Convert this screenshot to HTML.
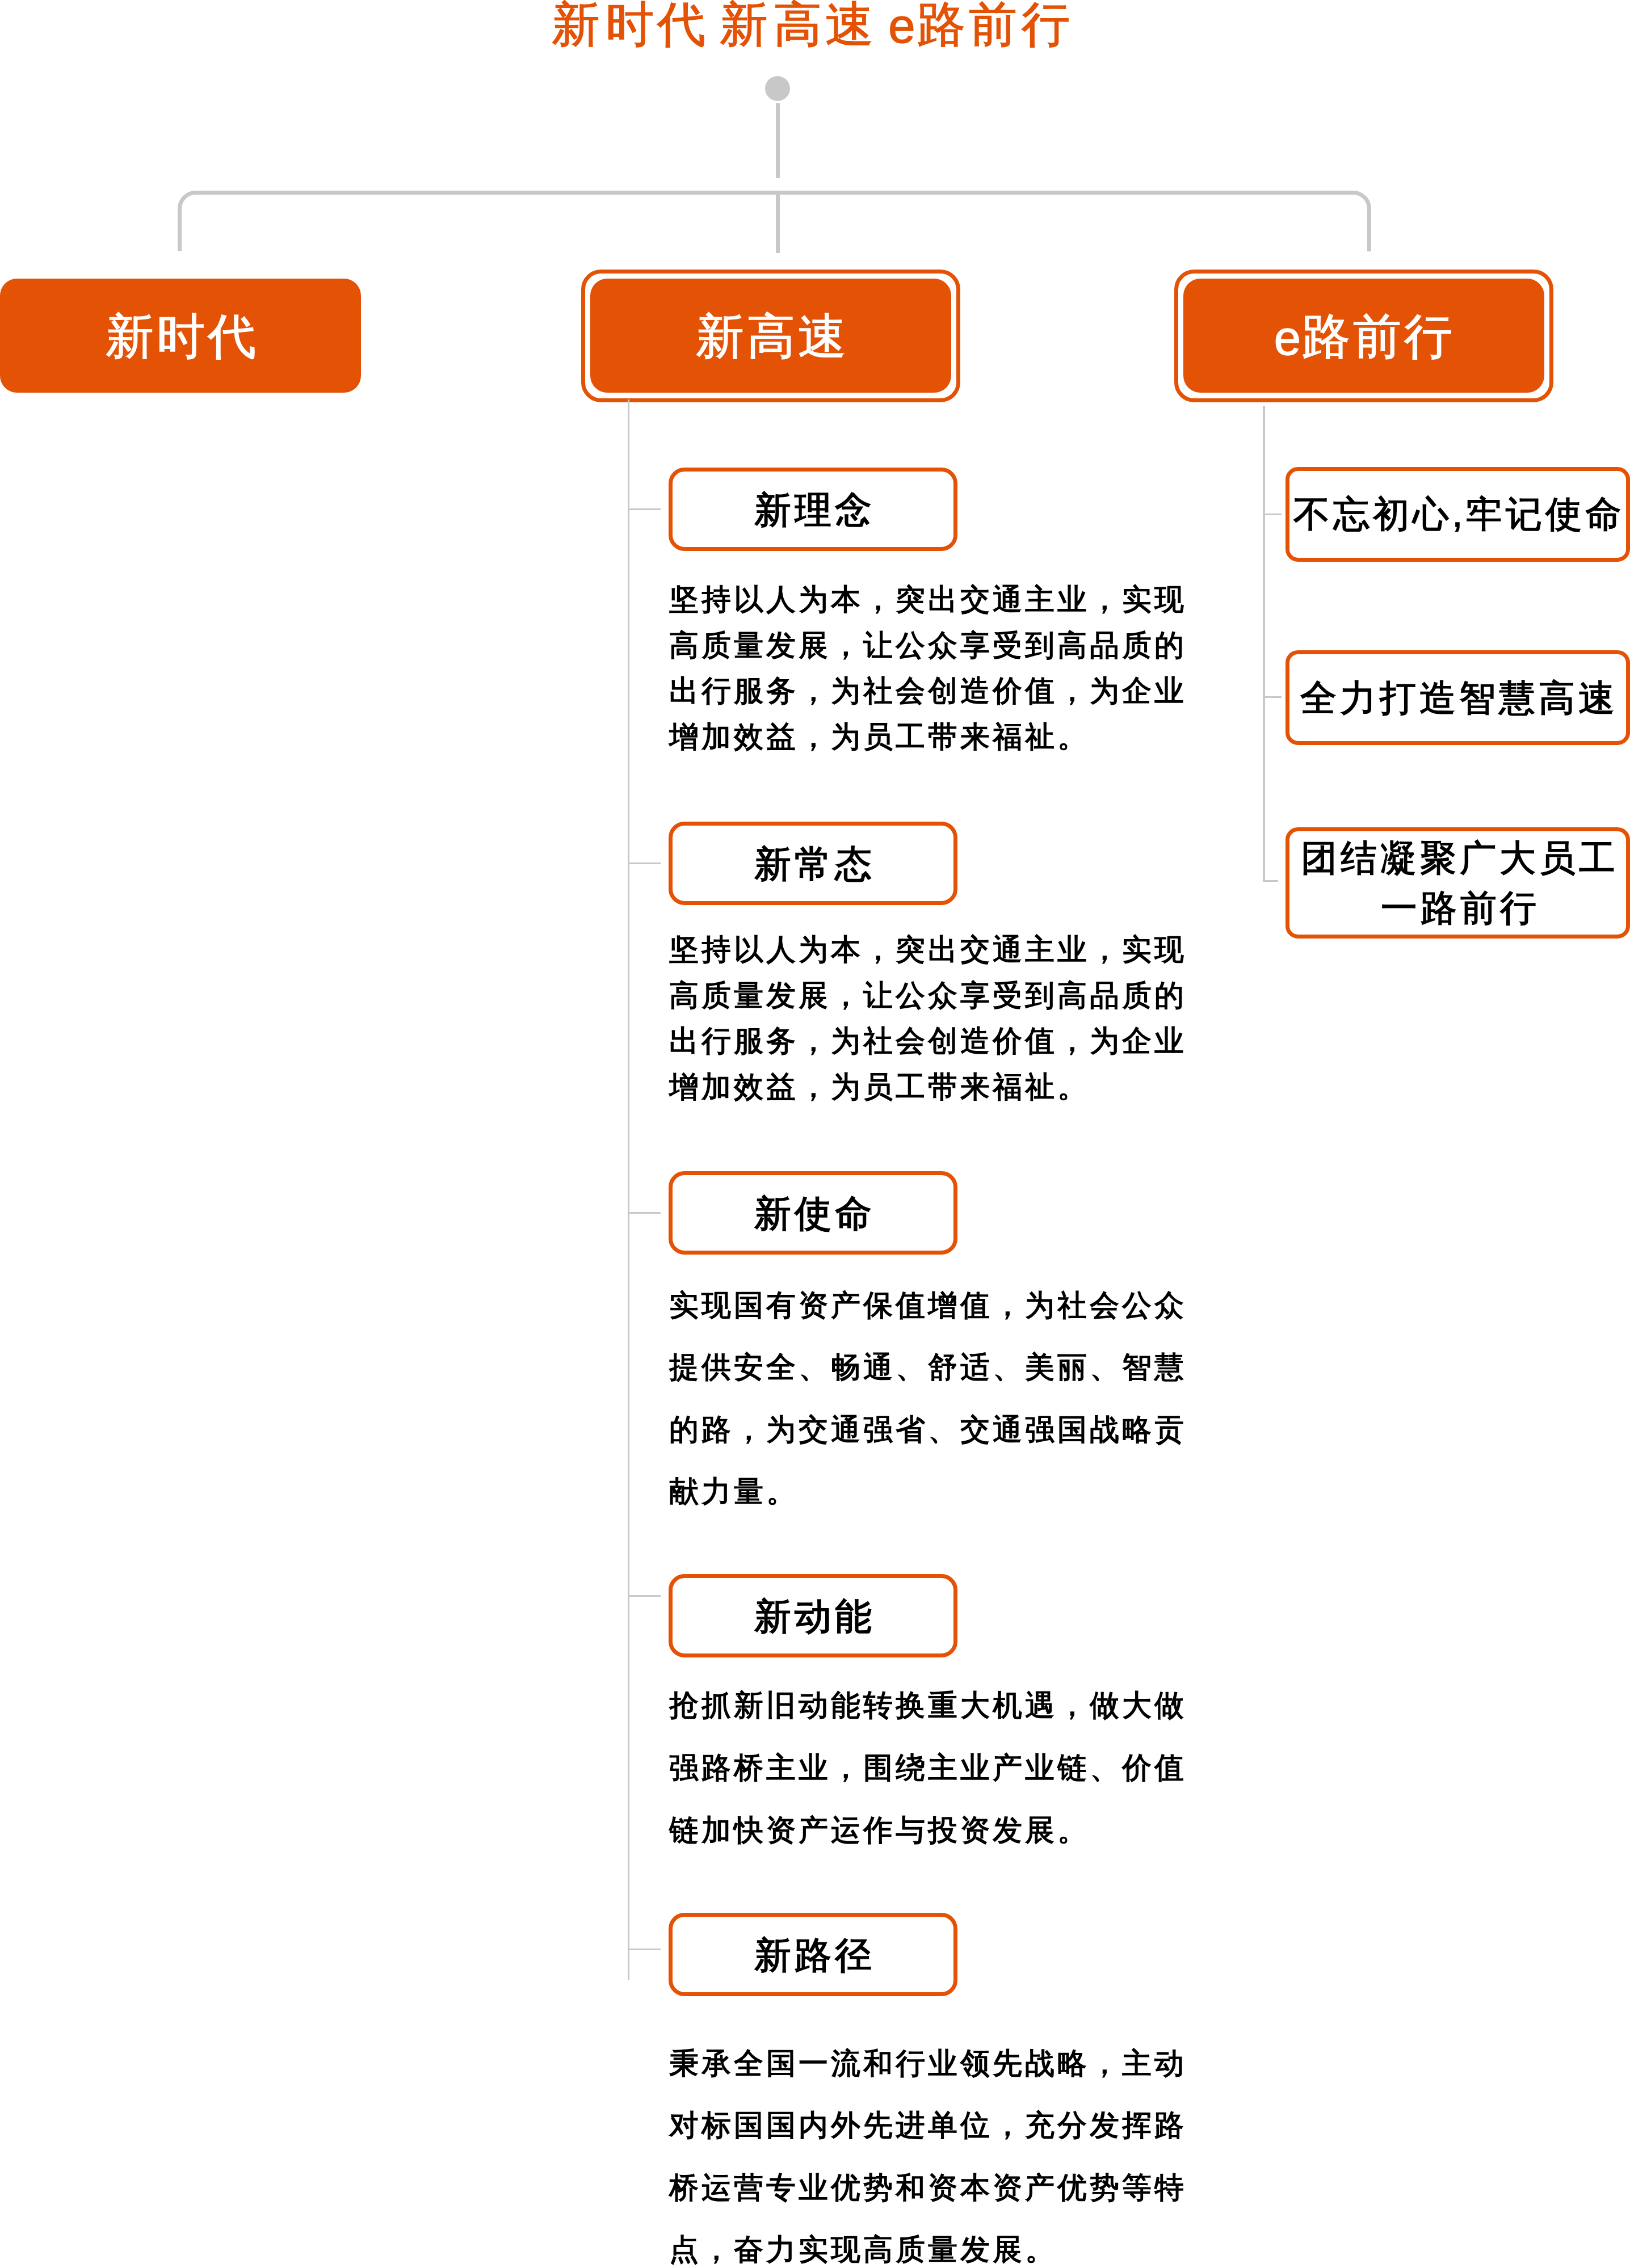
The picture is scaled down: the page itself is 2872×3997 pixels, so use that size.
<!DOCTYPE html><html><head><meta charset="utf-8"><style>html,body{margin:0;padding:0;background:#fff;}body{width:2872px;height:3997px;position:relative;overflow:hidden;font-family:"Liberation Sans", sans-serif;}.t{position:absolute;white-space:pre;}</style></head><body>
<svg style="position:absolute;left:0;top:0" width="2872" height="3997" viewBox="0 0 2872 3997">
<circle cx="1370" cy="156" r="22" fill="#C8C8C8"/>
<rect x="1367" y="182" width="7" height="132" fill="#C8C8C8"/>
<path d="M316.5 442 V368 A28.5 28.5 0 0 1 345 339.5 H2384 A28.5 28.5 0 0 1 2412.5 368 V443" fill="none" stroke="#C8C8C8" stroke-width="7"/>
<rect x="1367" y="343" width="7" height="103" fill="#C8C8C8"/>
<rect x="1106" y="704" width="3" height="2786" fill="#C8C8C8"/>
<rect x="2225" y="715" width="4" height="839" fill="#C8C8C8"/>
</svg>
<div style="position:absolute;left:1109px;top:896px;width:55px;height:3px;background:#C8C8C8"></div>
<div style="position:absolute;left:1109px;top:1520px;width:55px;height:3px;background:#C8C8C8"></div>
<div style="position:absolute;left:1109px;top:2136px;width:55px;height:3px;background:#C8C8C8"></div>
<div style="position:absolute;left:1109px;top:2811px;width:55px;height:3px;background:#C8C8C8"></div>
<div style="position:absolute;left:1109px;top:3434px;width:55px;height:3px;background:#C8C8C8"></div>
<div style="position:absolute;left:2229px;top:905px;width:29px;height:3px;background:#C8C8C8"></div>
<div style="position:absolute;left:2229px;top:1227px;width:29px;height:3px;background:#C8C8C8"></div>
<div style="position:absolute;left:2225px;top:1551px;width:27px;height:3px;background:#C8C8C8"></div>
<div style="position:absolute;left:0;top:491px;width:636px;height:201px;background:#E35205;border-radius:30px"></div>
<div style="position:absolute;left:1024px;top:475px;width:654px;height:220px;border:7px solid #E35205;border-radius:35px"></div>
<div style="position:absolute;left:1040px;top:491px;width:636px;height:201px;background:#E35205;border-radius:30px"></div>
<div style="position:absolute;left:2069px;top:475px;width:654px;height:220px;border:7px solid #E35205;border-radius:35px"></div>
<div style="position:absolute;left:2085px;top:491px;width:636px;height:201px;background:#E35205;border-radius:30px"></div>
<div style="position:absolute;left:1178px;top:824px;width:495px;height:133px;border:7px solid #E35205;border-radius:28px"></div>
<div style="position:absolute;left:1178px;top:1448px;width:495px;height:133px;border:7px solid #E35205;border-radius:28px"></div>
<div style="position:absolute;left:1178px;top:2064px;width:495px;height:133px;border:7px solid #E35205;border-radius:28px"></div>
<div style="position:absolute;left:1178px;top:2774px;width:495px;height:133px;border:7px solid #E35205;border-radius:28px"></div>
<div style="position:absolute;left:1178px;top:3371px;width:495px;height:133px;border:7px solid #E35205;border-radius:28px"></div>
<div style="position:absolute;left:2265px;top:823px;width:593px;height:153px;border:7px solid #E35205;border-radius:22px"></div>
<div style="position:absolute;left:2265px;top:1146px;width:593px;height:153px;border:7px solid #E35205;border-radius:22px"></div>
<div style="position:absolute;left:2265px;top:1458px;width:593px;height:182px;border:7px solid #E35205;border-radius:22px"></div>
<div style="position:absolute;left:1106px;top:704px;width:3px;height:6px;background:#C8C8C8"></div>
<div class="t" style="left:314.0px;width:1400px;text-align:center;top:0px;font-size:85px;line-height:85px;color:#E35205;font-weight:400;letter-spacing:0px;padding-left:0px;box-sizing:border-box;-webkit-text-stroke:1.5px #E35205;">新</div>
<div class="t" style="left:409.0px;width:1400px;text-align:center;top:0px;font-size:85px;line-height:85px;color:#E35205;font-weight:400;letter-spacing:0px;padding-left:0px;box-sizing:border-box;-webkit-text-stroke:1.5px #E35205;">时</div>
<div class="t" style="left:500.0px;width:1400px;text-align:center;top:0px;font-size:85px;line-height:85px;color:#E35205;font-weight:400;letter-spacing:0px;padding-left:0px;box-sizing:border-box;-webkit-text-stroke:1.5px #E35205;">代</div>
<div class="t" style="left:610.0px;width:1400px;text-align:center;top:0px;font-size:85px;line-height:85px;color:#E35205;font-weight:400;letter-spacing:0px;padding-left:0px;box-sizing:border-box;-webkit-text-stroke:1.5px #E35205;">新</div>
<div class="t" style="left:705.0px;width:1400px;text-align:center;top:0px;font-size:85px;line-height:85px;color:#E35205;font-weight:400;letter-spacing:0px;padding-left:0px;box-sizing:border-box;-webkit-text-stroke:1.5px #E35205;">高</div>
<div class="t" style="left:796.0px;width:1400px;text-align:center;top:0px;font-size:85px;line-height:85px;color:#E35205;font-weight:400;letter-spacing:0px;padding-left:0px;box-sizing:border-box;-webkit-text-stroke:1.5px #E35205;">速</div>
<div class="t" style="left:889.0px;width:1400px;text-align:center;top:3px;font-size:85px;line-height:85px;color:#E35205;font-weight:400;letter-spacing:0px;padding-left:0px;box-sizing:border-box;-webkit-text-stroke:1.5px #E35205;">e</div>
<div class="t" style="left:958.0px;width:1400px;text-align:center;top:0px;font-size:85px;line-height:85px;color:#E35205;font-weight:400;letter-spacing:0px;padding-left:0px;box-sizing:border-box;-webkit-text-stroke:1.5px #E35205;">路</div>
<div class="t" style="left:1049.0px;width:1400px;text-align:center;top:0px;font-size:85px;line-height:85px;color:#E35205;font-weight:400;letter-spacing:0px;padding-left:0px;box-sizing:border-box;-webkit-text-stroke:1.5px #E35205;">前</div>
<div class="t" style="left:1142.0px;width:1400px;text-align:center;top:0px;font-size:85px;line-height:85px;color:#E35205;font-weight:400;letter-spacing:0px;padding-left:0px;box-sizing:border-box;-webkit-text-stroke:1.5px #E35205;">行</div>
<div class="t" style="left:-382.0px;width:1400px;text-align:center;top:550px;font-size:85px;line-height:85px;color:#fff;font-weight:400;letter-spacing:5px;padding-left:5px;box-sizing:border-box;-webkit-text-stroke:1.5px #fff;">新时代</div>
<div class="t" style="left:658.0px;width:1400px;text-align:center;top:550px;font-size:85px;line-height:85px;color:#fff;font-weight:400;letter-spacing:5px;padding-left:5px;box-sizing:border-box;-webkit-text-stroke:1.5px #fff;">新高速</div>
<div class="t" style="left:1702.0px;width:1400px;text-align:center;top:550px;font-size:85px;line-height:85px;color:#fff;font-weight:400;letter-spacing:5px;padding-left:5px;box-sizing:border-box;-webkit-text-stroke:1.5px #fff;"><span style="position:relative;top:3px;margin-right:-3px">e</span>路前行</div>
<div class="t" style="left:732.5px;width:1400px;text-align:center;top:866px;font-size:65px;line-height:65px;color:#000;font-weight:400;letter-spacing:6px;padding-left:6px;box-sizing:border-box;-webkit-text-stroke:1.8px #000;">新理念</div>
<div class="t" style="left:732.5px;width:1400px;text-align:center;top:1490px;font-size:65px;line-height:65px;color:#000;font-weight:400;letter-spacing:6px;padding-left:6px;box-sizing:border-box;-webkit-text-stroke:1.8px #000;">新常态</div>
<div class="t" style="left:732.5px;width:1400px;text-align:center;top:2106px;font-size:65px;line-height:65px;color:#000;font-weight:400;letter-spacing:6px;padding-left:6px;box-sizing:border-box;-webkit-text-stroke:1.8px #000;">新使命</div>
<div class="t" style="left:732.5px;width:1400px;text-align:center;top:2816px;font-size:65px;line-height:65px;color:#000;font-weight:400;letter-spacing:6px;padding-left:6px;box-sizing:border-box;-webkit-text-stroke:1.8px #000;">新动能</div>
<div class="t" style="left:732.5px;width:1400px;text-align:center;top:3413px;font-size:65px;line-height:65px;color:#000;font-weight:400;letter-spacing:6px;padding-left:6px;box-sizing:border-box;-webkit-text-stroke:1.8px #000;">新路径</div>
<div class="t" style="left:1179px;top:1030.0px;font-size:52px;line-height:52px;color:#000;font-weight:400;letter-spacing:5px;-webkit-text-stroke:1.5px #000;">坚持以人为本，突出交通主业，实现</div>
<div class="t" style="left:1179px;top:1110.7px;font-size:52px;line-height:52px;color:#000;font-weight:400;letter-spacing:5px;-webkit-text-stroke:1.5px #000;">高质量发展，让公众享受到高品质的</div>
<div class="t" style="left:1179px;top:1191.4px;font-size:52px;line-height:52px;color:#000;font-weight:400;letter-spacing:5px;-webkit-text-stroke:1.5px #000;">出行服务，为社会创造价值，为企业</div>
<div class="t" style="left:1179px;top:1272.1px;font-size:52px;line-height:52px;color:#000;font-weight:400;letter-spacing:5px;-webkit-text-stroke:1.5px #000;">增加效益，为员工带来福祉。</div>
<div class="t" style="left:1179px;top:1647.0px;font-size:52px;line-height:52px;color:#000;font-weight:400;letter-spacing:5px;-webkit-text-stroke:1.5px #000;">坚持以人为本，突出交通主业，实现</div>
<div class="t" style="left:1179px;top:1727.7px;font-size:52px;line-height:52px;color:#000;font-weight:400;letter-spacing:5px;-webkit-text-stroke:1.5px #000;">高质量发展，让公众享受到高品质的</div>
<div class="t" style="left:1179px;top:1808.4px;font-size:52px;line-height:52px;color:#000;font-weight:400;letter-spacing:5px;-webkit-text-stroke:1.5px #000;">出行服务，为社会创造价值，为企业</div>
<div class="t" style="left:1179px;top:1889.1px;font-size:52px;line-height:52px;color:#000;font-weight:400;letter-spacing:5px;-webkit-text-stroke:1.5px #000;">增加效益，为员工带来福祉。</div>
<div class="t" style="left:1179px;top:2274.0px;font-size:52px;line-height:52px;color:#000;font-weight:400;letter-spacing:5px;-webkit-text-stroke:1.5px #000;">实现国有资产保值增值，为社会公众</div>
<div class="t" style="left:1179px;top:2383.3px;font-size:52px;line-height:52px;color:#000;font-weight:400;letter-spacing:5px;-webkit-text-stroke:1.5px #000;">提供安全、畅通、舒适、美丽、智慧</div>
<div class="t" style="left:1179px;top:2492.6px;font-size:52px;line-height:52px;color:#000;font-weight:400;letter-spacing:5px;-webkit-text-stroke:1.5px #000;">的路，为交通强省、交通强国战略贡</div>
<div class="t" style="left:1179px;top:2601.9px;font-size:52px;line-height:52px;color:#000;font-weight:400;letter-spacing:5px;-webkit-text-stroke:1.5px #000;">献力量。</div>
<div class="t" style="left:1179px;top:2979px;font-size:52px;line-height:52px;color:#000;font-weight:400;letter-spacing:5px;-webkit-text-stroke:1.5px #000;">抢抓新旧动能转换重大机遇，做大做</div>
<div class="t" style="left:1179px;top:3089px;font-size:52px;line-height:52px;color:#000;font-weight:400;letter-spacing:5px;-webkit-text-stroke:1.5px #000;">强路桥主业，围绕主业产业链、价值</div>
<div class="t" style="left:1179px;top:3199px;font-size:52px;line-height:52px;color:#000;font-weight:400;letter-spacing:5px;-webkit-text-stroke:1.5px #000;">链加快资产运作与投资发展。</div>
<div class="t" style="left:1179px;top:3610.0px;font-size:52px;line-height:52px;color:#000;font-weight:400;letter-spacing:5px;-webkit-text-stroke:1.5px #000;">秉承全国一流和行业领先战略，主动</div>
<div class="t" style="left:1179px;top:3719.3px;font-size:52px;line-height:52px;color:#000;font-weight:400;letter-spacing:5px;-webkit-text-stroke:1.5px #000;">对标国国内外先进单位，充分发挥路</div>
<div class="t" style="left:1179px;top:3828.6px;font-size:52px;line-height:52px;color:#000;font-weight:400;letter-spacing:5px;-webkit-text-stroke:1.5px #000;">桥运营专业优势和资本资产优势等特</div>
<div class="t" style="left:1179px;top:3937.9px;font-size:52px;line-height:52px;color:#000;font-weight:400;letter-spacing:5px;-webkit-text-stroke:1.5px #000;">点，奋力实现高质量发展。</div>
<div class="t" style="left:1868.0px;width:1400px;text-align:center;top:874px;font-size:64px;line-height:64px;color:#000;font-weight:400;letter-spacing:6px;padding-left:6px;box-sizing:border-box;-webkit-text-stroke:1.6px #000;">不忘初心,牢记使命</div>
<div class="t" style="left:1868.0px;width:1400px;text-align:center;top:1198px;font-size:64px;line-height:64px;color:#000;font-weight:400;letter-spacing:6px;padding-left:6px;box-sizing:border-box;-webkit-text-stroke:1.6px #000;">全力打造智慧高速</div>
<div class="t" style="left:1869.0px;width:1400px;text-align:center;top:1480px;font-size:64px;line-height:64px;color:#000;font-weight:400;letter-spacing:6px;padding-left:6px;box-sizing:border-box;-webkit-text-stroke:1.6px #000;">团结凝聚广大员工</div>
<div class="t" style="left:1870.0px;width:1400px;text-align:center;top:1568px;font-size:64px;line-height:64px;color:#000;font-weight:400;letter-spacing:6px;padding-left:6px;box-sizing:border-box;-webkit-text-stroke:1.6px #000;">一路前行</div>
</body></html>
